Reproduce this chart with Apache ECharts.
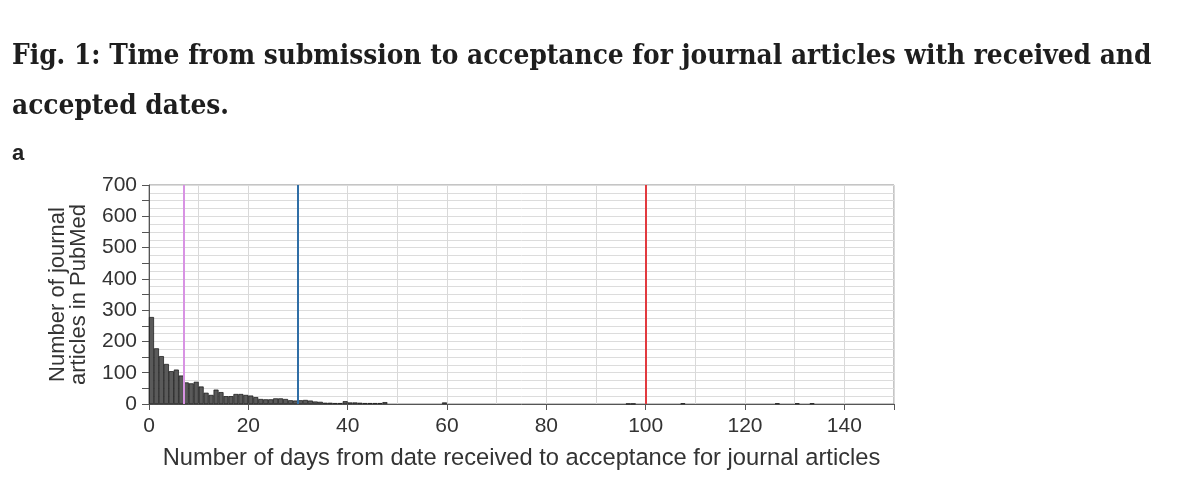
<!DOCTYPE html>
<html><head><meta charset="utf-8">
<script src="https://cdn.jsdelivr.net/npm/echarts@6/dist/echarts.min.js"></script>
<style>html,body{margin:0;padding:0;background:#fff}#c{width:1200px;height:483px}</style>
</head><body><div id="c"></div>
<script>
// ---- data ----
const titleLine1 = "Fig. 1: Time from submission to acceptance for journal articles with received and";
const titleLine2 = "accepted dates.";
const panelLabel = "a";
const xAxisName = "Number of days from date received to acceptance for journal articles";
const yAxisName = "Number of journal\narticles in PubMed";
// histogram bins (bin start day, 1-day bins)
const binDays = [0,1,2,3,4,5,6,7,8,9,10,11,12,13,14,15,16,17,18,19,20,21,22,23,24,25,26,27,28,29,30,31,32,33,34,35,36,37,38,39,40,41,42,43,44,45,46,47,59,96,97,107,126,130,133];
const binCounts = [278,178,153,128,105,110,91,69,66,71,56,36,29,46,38,25,25,32,32,29,27,22,16,15,15,18,18,16,12,11,12,13,11,8,7,4,4,3,3,9,5,5,4,3,3,3,3,6,5,1,1,2,2,2,2];
const refDays = [7, 30, 100];
const refColors = ['#d893e3', '#2f6ea6', '#e23a3f'];
const xMin = 0, xMax = 150, yMin = 0, yMax = 700;

// ---- title font fitted to the reference line width ----
const titleFamily = '"DejaVu Serif Condensed", "DejaVu Serif", serif';
const sansFamily = '"Liberation Sans", Arial, sans-serif';
const ctx = document.createElement('canvas').getContext('2d');
ctx.font = 'bold 100px ' + titleFamily;
const titleSize = Math.min(32, 100 * 1140 / ctx.measureText(titleLine1).width);

// ---- chart ----
const chart = echarts.init(document.getElementById('c'));
const labelFont = {fontFamily: sansFamily, fontSize: 21, color: '#333'};
const titleStyle = {fontFamily: titleFamily, fontWeight: 'bold', fontSize: titleSize, color: '#1e1e1e'};
chart.setOption({
  animation: false,
  backgroundColor: '#fff',
  title: [
    {text: titleLine1, left: 12, top: 67 - titleSize * 0.86, padding: 0, textStyle: titleStyle},
    {text: titleLine2, left: 12, top: 117 - titleSize * 0.86, padding: 0, textStyle: titleStyle},
    {text: panelLabel, left: 12, top: 143, padding: 0,
     textStyle: {fontFamily: sansFamily, fontWeight: 'bold', fontSize: 22, color: '#222'}}
  ],
  grid: {left: 149, right: 306, top: 185, bottom: 79, show: true, borderColor: '#8a8a8a', borderWidth: 1, backgroundColor: 'transparent'},
  xAxis: [
    {type: 'value', min: xMin, max: xMax, interval: 10,
     name: xAxisName, nameLocation: 'middle', nameGap: 42,
     nameTextStyle: {fontFamily: sansFamily, fontSize: 23.7, color: '#333'},
     axisLine: {show: true, lineStyle: {color: '#555', width: 1}},
     axisTick: {show: false},
     axisLabel: Object.assign({margin: 12, formatter: v => (v % 20 === 0 && v <= 140) ? String(v) : ''}, labelFont),
     splitLine: {show: true, lineStyle: {color: '#d9d9d9', width: 1}}},
    {type: 'value', min: xMin, max: xMax, interval: 20, position: 'bottom', offset: 0,
     axisLine: {show: false}, axisLabel: {show: false}, splitLine: {show: false},
     axisTick: {show: true, length: 6, lineStyle: {color: '#555'}}}
  ],
  yAxis: {type: 'value', min: yMin, max: yMax, interval: 50,
    name: yAxisName, nameLocation: 'middle', nameGap: 60, nameRotate: 90,
    nameTextStyle: {fontFamily: sansFamily, fontSize: 22, color: '#333', lineHeight: 21},
    axisLine: {show: true, lineStyle: {color: '#555', width: 1}},
    axisTick: {show: true, length: 7, lineStyle: {color: '#555'}},
    axisLabel: Object.assign({margin: 12, formatter: v => (v % 100 === 0) ? String(v) : ''}, labelFont),
    splitLine: {show: true, lineStyle: {color: '#dcdcdc', width: 1}},
    minorTick: {show: false, splitNumber: 2},
    minorSplitLine: {show: true, lineStyle: {color: '#dcdcdc', width: 1}}},
  series: [{
    type: 'bar',
    xAxisIndex: 0,
    barWidth: 5,
    data: binDays.map((d, i) => [d + 0.5, binCounts[i]]),
    itemStyle: {color: '#5a5a5a', borderColor: '#111', borderWidth: 0.7},
    markLine: {
      silent: true, symbol: ['none', 'none'], label: {show: false},
      data: refDays.map((d, i) => ({xAxis: d, lineStyle: {color: refColors[i], width: 2, type: 'solid'}}))
    }
  }]
});
</script></body></html>
